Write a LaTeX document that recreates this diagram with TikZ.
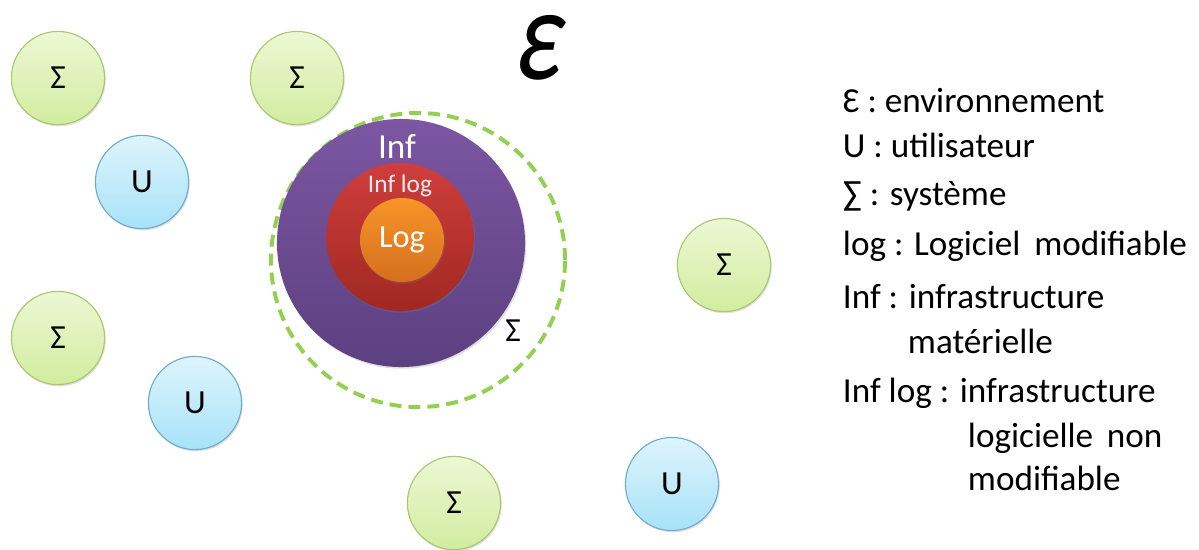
\documentclass[tikz,border=0pt]{standalone}
\usepackage{graphicx}
\usepackage{fontspec}
\setmainfont{Carlito}
\usetikzlibrary{shadows}

\definecolor{vertclair}{RGB}{236,248,212}
\definecolor{vertfonce}{RGB}{210,236,160}
\definecolor{vertbord}{RGB}{168,200,110}
\definecolor{bleuclair}{RGB}{222,244,252}
\definecolor{bleufonce}{RGB}{168,226,248}
\definecolor{bleubord}{RGB}{110,172,204}
\definecolor{violethaut}{RGB}{124,86,162}
\definecolor{violetbas}{RGB}{92,64,128}
\definecolor{rougehaut}{RGB}{206,62,60}
\definecolor{rougebas}{RGB}{160,40,34}
\definecolor{orangehaut}{RGB}{248,148,40}
\definecolor{orangebas}{RGB}{212,112,30}
\definecolor{pointille}{RGB}{146,208,80}

\begin{document}
\begin{tikzpicture}[
  x=0.025cm, y=-0.025cm,
  ombre/.style={drop shadow={opacity=0.25, shadow xshift=0.8pt, shadow yshift=-1.2pt}},
  systeme/.style={circle, draw=vertbord, line width=0.8pt, inner sep=0pt,
                  top color=vertclair, bottom color=vertfonce,
                  minimum size=2.33cm, font=\fontsize{24}{28}\selectfont, ombre},
  utilisateur/.style={circle, draw=bleubord, line width=0.8pt, inner sep=0pt,
                      top color=bleuclair, bottom color=bleufonce,
                      minimum size=2.33cm, font=\fontsize{24}{28}\selectfont, ombre},
  couche/.style={circle, inner sep=0pt, text=white},
  enveloppe/.style={circle, draw=pointille, line width=2.8pt, dash pattern=on 8.5pt off 5pt,
                    inner sep=0pt, minimum size=7.35cm},
  legende/.style={anchor=base west, font=\fontsize{25}{29}\selectfont}
]
\useasboundingbox (0,0) rectangle (1199,549);

% ---- environnement (penche a la main) ----------------------------------
\begin{scope}[shift={(536,79)}, xslant=0.18]
  \node[transform shape, anchor=base, inner sep=0pt, text height=1.5cm, text depth=0pt] (env) at (0,0)
    {\scalebox{0.78}[1]{\fontsize{94}{94}\selectfont ε}};
\end{scope}

% ---- systemes et utilisateurs autour ---------------------------------
\foreach \n/\x/\y in {1/58/78, 2/297/78, 3/58/338, 4/724/265, 5/454/503} {
  \node[systeme] (sys\n) at (\x,\y) {Σ};
}
\foreach \n/\x/\y in {1/142/182, 2/195/403, 3/672/484} {
  \node[utilisateur] (util\n) at (\x,\y) {U};
}

% ---- systeme central en couches --------------------------------------
\node[enveloppe] (sigma) at (418,260) {};
\node[couche, minimum size=6.2cm, top color=violethaut, bottom color=violetbas, ombre] (inf) at (401,243) {};
\node[couche, minimum size=3.7cm, top color=rougehaut, bottom color=rougebas, ombre] (inflog) at (400,237) {};
\node[couche, minimum size=2.1cm, top color=orangehaut, bottom color=orangebas, ombre,
      font=\fontsize{23}{26}\selectfont] (log) at (402,240) {Log};
\node[text=white, font=\fontsize{25}{28}\selectfont] (inftxt) at (397,146) {Inf};
\node[text=white!92!red, font=\fontsize{18}{20}\selectfont] (inflogtxt) at (400,186) {Inf log};
\node[font=\fontsize{24}{28}\selectfont] (sigmatxt) at (513,331) {Σ};

% ---- legende ---------------------------------------------------------
\node[legende] (leg1) at (838,112) {Ɛ : environnement};
\node[legende] (leg2) at (838,157) {U : utilisateur};
\node[legende] (leg3) at (838,205) {∑ : système};
\node[legende] (leg4) at (838,255) {log : Logiciel\, modifiable};
\node[legende] (leg5) at (838,308) {Inf : infrastructure};
\node[legende] (leg6) at (903,353) {matérielle};
\node[legende] (leg7) at (838,402) {Inf log : infrastructure};
\node[legende] (leg8) at (963,447) {logicielle\, non};
\node[legende] (leg9) at (963,490) {modifiable};

\end{tikzpicture}
\end{document}
